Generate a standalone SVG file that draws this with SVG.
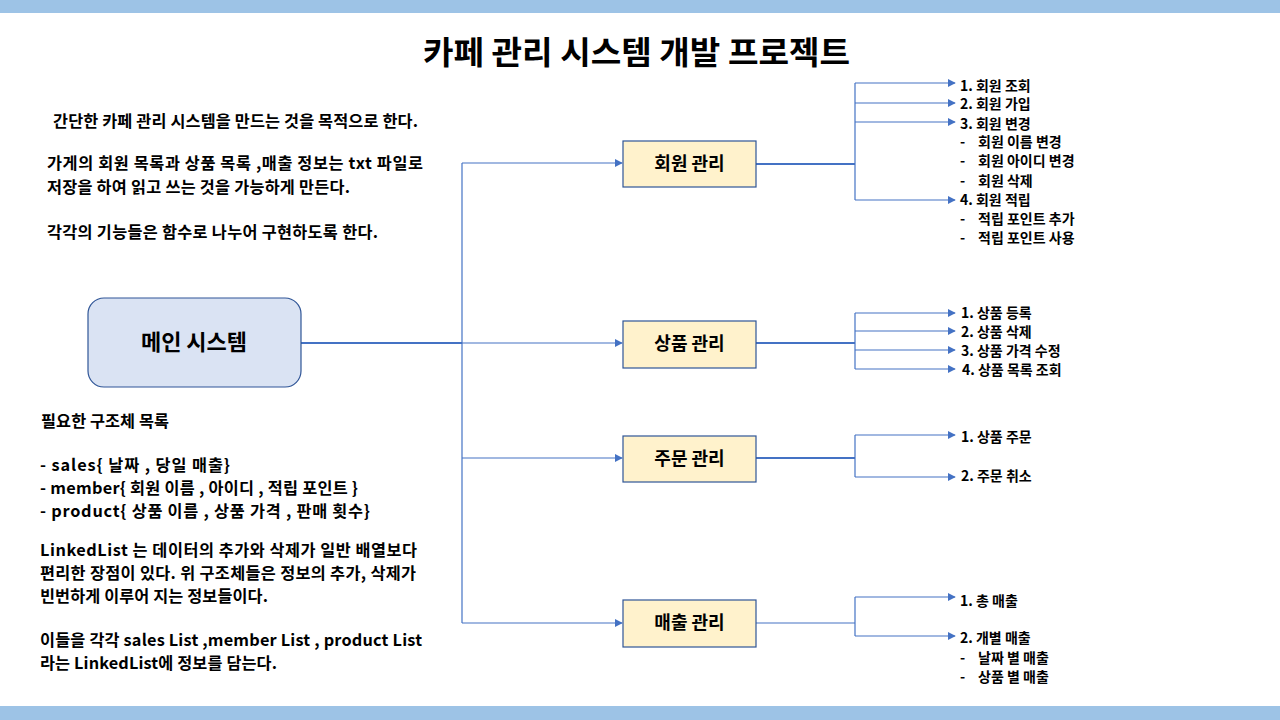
<svg xmlns="http://www.w3.org/2000/svg" width="1280" height="720" viewBox="0 0 1280 720">
<defs>
<marker id="arr" viewBox="0 0 10 10" refX="9" refY="5" markerWidth="8" markerHeight="8" markerUnits="userSpaceOnUse" orient="auto"><path d="M0,0 L10,5 L0,10 z" fill="#4472c4"/></marker>
<style>
text{font-family:"Noto Sans CJK KR","Noto Sans",sans-serif;fill:#000}
.title{font-size:32px;font-weight:700}
.body{font-size:16.3px;font-weight:700}
.item{font-size:14px;font-weight:700}
.node{font-size:18px;font-weight:700}
.mgr{fill:#fff2cc;stroke:#2f5597;stroke-width:1.2}
.main{fill:#dae3f3;stroke:#2f5597;stroke-width:1.2}
.ln{fill:none;stroke:#4472c4;stroke-width:1.2}
.tr{fill:none;stroke:#4472c4;stroke-width:2}
.ar{fill:none;stroke:#4472c4;stroke-width:1.2;marker-end:url(#arr)}
</style>
</defs>
<rect width="1280" height="720" fill="#fff"/>
<rect x="0" y="0" width="1280" height="13" fill="#9dc3e6"/>
<rect x="0" y="706" width="1280" height="14" fill="#9dc3e6"/>
<text class="title" x="423" y="64" textLength="427" lengthAdjust="spacingAndGlyphs">카페 관리 시스템 개발 프로젝트</text>
<g id="intro">
<text class="body" x="53" y="127" textLength="365" lengthAdjust="spacing">간단한 카페 관리 시스템을 만드는 것을 목적으로 한다.</text>
<text class="body" x="47" y="169" textLength="376" lengthAdjust="spacing">가게의 회원 목록과 상품 목록 ,매출 정보는 txt 파일로</text>
<text class="body" x="47" y="193" textLength="303" lengthAdjust="spacing">저장을 하여 읽고 쓰는 것을 가능하게 만든다.</text>
<text class="body" x="47" y="238" textLength="331" lengthAdjust="spacing">각각의 기능들은 함수로 나누어 구현하도록 한다.</text>
</g>
<g id="structs">
<text class="body" x="41" y="427" textLength="128" lengthAdjust="spacing">필요한 구조체 목록</text>
<text class="body" x="40" y="471" textLength="190" lengthAdjust="spacing">- sales{ 날짜 , 당일 매출}</text>
<text class="body" x="40" y="494" textLength="318" lengthAdjust="spacing">- member{ 회원 이름 , 아이디 , 적립 포인트 }</text>
<text class="body" x="40" y="517" textLength="330" lengthAdjust="spacing">- product{ 상품 이름 , 상품 가격  , 판매 횟수}</text>
<text class="body" x="40" y="556" textLength="377" lengthAdjust="spacing">LinkedList 는 데이터의 추가와 삭제가 일반 배열보다</text>
<text class="body" x="40" y="579" textLength="376" lengthAdjust="spacing">편리한 장점이 있다. 위 구조체들은 정보의 추가, 삭제가</text>
<text class="body" x="40" y="602" textLength="228" lengthAdjust="spacing">빈번하게 이루어 지는 정보들이다.</text>
<text class="body" x="40" y="646" textLength="382" lengthAdjust="spacing">이들을 각각 sales List ,member List , product List</text>
<text class="body" x="40" y="669" textLength="237" lengthAdjust="spacing">라는 LinkedList에 정보를 담는다.</text>
</g>
<g id="connectors">
<path class="tr" d="M301,343 H462"/>
<path class="ln" d="M462,163 V623"/>
<path class="ar" d="M462,163 H622"/>
<path class="ar" d="M462,343 H622"/>
<path class="ar" d="M462,458 H622"/>
<path class="ar" d="M462,623 H622"/>
<path class="tr" d="M756,164 H855"/>
<path class="ln" d="M855,83 V200"/>
<path class="ar" d="M855,83 H955"/>
<path class="ar" d="M855,103 H955"/>
<path class="ar" d="M855,122 H955"/>
<path class="ar" d="M855,200 H955"/>
<path class="tr" d="M756,343 H855"/>
<path class="ln" d="M855,313 V369"/>
<path class="ar" d="M855,313 H955"/>
<path class="ar" d="M855,331 H955"/>
<path class="ar" d="M855,350 H955"/>
<path class="ar" d="M855,369 H955"/>
<path class="tr" d="M756,458 H855"/>
<path class="ln" d="M855,435 V477"/>
<path class="ar" d="M855,435 H955"/>
<path class="ar" d="M855,477 H955"/>
<path class="ln" d="M756,623 H855"/>
<path class="ln" d="M855,597 V636"/>
<path class="ar" d="M855,597 H955"/>
<path class="ar" d="M855,636 H955"/>
</g>
<g id="main-system">
<rect class="main" x="88" y="298" width="213" height="89" rx="16"/>
<text class="node" x="194" y="350" text-anchor="middle" style="font-size:22px">메인 시스템</text>
</g>
<g id="member-mgmt">
<rect class="mgr" x="623" y="141" width="133" height="46"/>
<text class="node" x="689.5" y="170" text-anchor="middle">회원 관리</text>
</g>
<g id="product-mgmt">
<rect class="mgr" x="623" y="321" width="133" height="47"/>
<text class="node" x="689.5" y="350" text-anchor="middle">상품 관리</text>
</g>
<g id="order-mgmt">
<rect class="mgr" x="623" y="436" width="133" height="46"/>
<text class="node" x="689.5" y="465" text-anchor="middle">주문 관리</text>
</g>
<g id="sales-mgmt">
<rect class="mgr" x="623" y="600" width="133" height="47"/>
<text class="node" x="689.5" y="629" text-anchor="middle">매출 관리</text>
</g>
<g id="member-items">
<text class="item" x="960" y="91">1. 회원 조회</text>
<text class="item" x="960" y="109">2. 회원 가입</text>
<text class="item" x="960" y="129">3. 회원 변경</text>
<text class="item" x="960" y="147">-</text><text class="item" x="978" y="147">회원 이름 변경</text>
<text class="item" x="960" y="166">-</text><text class="item" x="978" y="166">회원 아이디 변경</text>
<text class="item" x="960" y="186">-</text><text class="item" x="978" y="186">회원 삭제</text>
<text class="item" x="960" y="205">4. 회원 적립</text>
<text class="item" x="960" y="224">-</text><text class="item" x="978" y="224">적립 포인트 추가</text>
<text class="item" x="960" y="243">-</text><text class="item" x="978" y="243">적립 포인트 사용</text>
</g>
<g id="product-items">
<text class="item" x="961" y="318">1. 상품 등록</text>
<text class="item" x="961" y="337">2. 상품 삭제</text>
<text class="item" x="961" y="356">3. 상품 가격 수정</text>
<text class="item" x="962" y="375">4. 상품 목록 조회</text>
</g>
<g id="order-items">
<text class="item" x="961" y="442">1. 상품 주문</text>
<text class="item" x="961" y="481">2. 주문 취소</text>
</g>
<g id="sales-items">
<text class="item" x="960" y="606">1. 총 매출</text>
<text class="item" x="960" y="643">2. 개별 매출</text>
<text class="item" x="960" y="663">-</text><text class="item" x="978" y="663">날짜 별 매출</text>
<text class="item" x="960" y="682">-</text><text class="item" x="978" y="682">상품 별 매출</text>
</g>
</svg>
